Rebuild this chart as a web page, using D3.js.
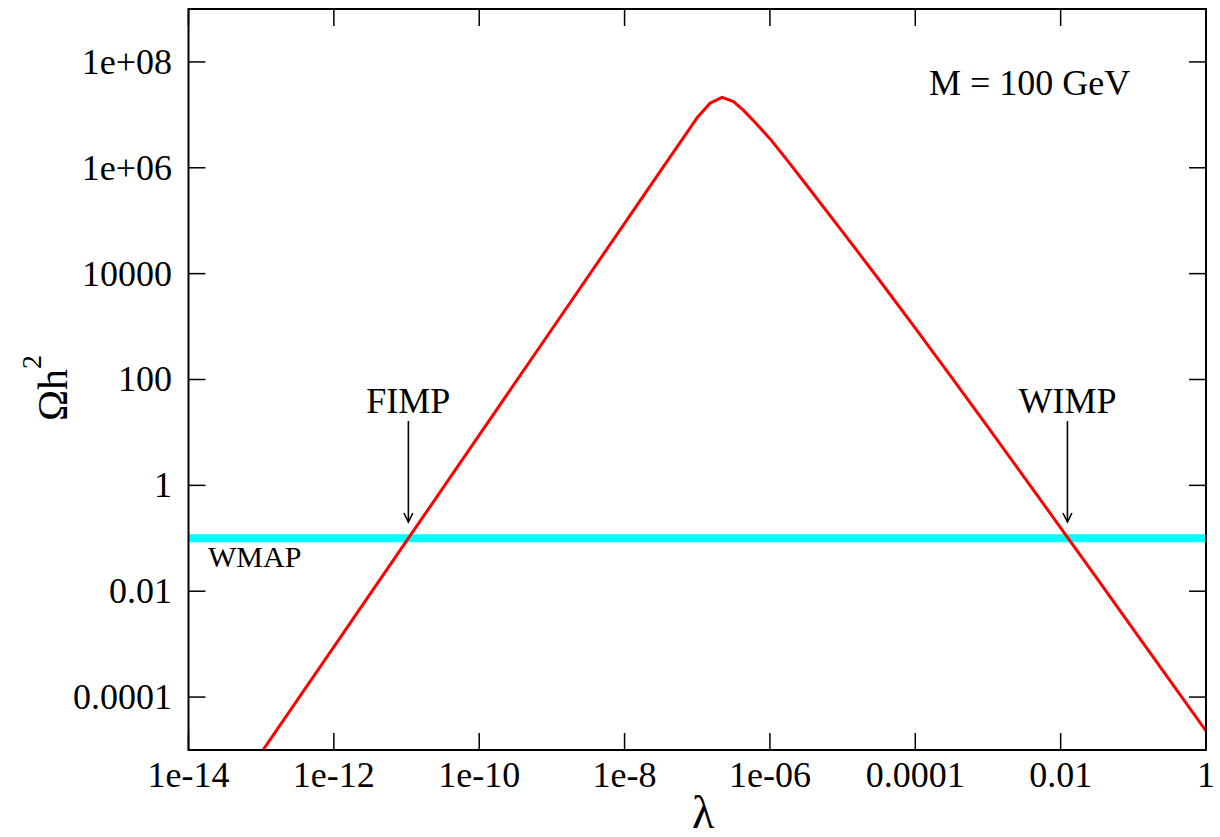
<!DOCTYPE html>
<html>
<head>
<meta charset="utf-8">
<script src="https://cdn.jsdelivr.net/npm/d3@7"></script>
<style>
  html, body { margin: 0; padding: 0; background: #fff; }
  svg { display: block; }
  text { font-family: "Liberation Serif", "Times New Roman", serif; fill: #000; }
</style>
</head>
<body>
<script>
// ---- data ----
const lambdaVals = [1e-13, 1e-12, 1e-11, 1e-10, 1e-9, 1e-8, 3.16e-8, 1e-7, 1.5e-7, 2.2e-7, 3.16e-7, 4.3e-7,
                    6.31e-7, 1e-6, 1.78e-6, 3.16e-6, 1e-5, 3.16e-5, 1e-4, 3.16e-4, 1e-3, 3.16e-3, 1e-2, 3.16e-2, 1e-1, 3.16e-1, 1];
const omegaVals  = [8.9e-6, 8.9e-4, 0.089, 8.9, 891, 8.9e4, 8.9e5, 8.9e6, 1.66e7, 2.14e7, 1.78e7, 1.23e7,
                    7.08e6, 3.55e6, 1.32e6, 4.79e5, 6.17e4, 7.76e3, 933, 110, 12.6, 1.41, 0.158, 0.0174, 1.91e-3, 2.09e-4, 2.29e-5];
const wmapValue = 0.1;
const xTicks = [1e-14, 1e-12, 1e-10, 1e-8, 1e-6, 1e-4, 1e-2, 1];
const xTickLabels = ["1e-14", "1e-12", "1e-10", "1e-8", "1e-06", "0.0001", "0.01", "1"];
const yTicks = [1e-4, 1e-2, 1, 100, 1e4, 1e6, 1e8];
const yTickLabels = ["0.0001", "0.01", "1", "100", "10000", "1e+06", "1e+08"];
const annotations = [
  { text: "FIMP", lambda: 1.06e-11 },
  { text: "WIMP", lambda: 0.0124 }
];

// ---- layout ----
const W = 1220, H = 837;
const L = 188.5, R = 1206, T = 9, B = 750;

const svg = d3.select("body").append("svg").attr("width", W).attr("height", H);

const x = d3.scaleLog().domain([1e-14, 1]).range([L, R]);
const y = d3.scaleLog().domain([1e-5, 1e9]).range([B, T]);

svg.append("defs").append("clipPath").attr("id", "plotclip")
  .append("rect").attr("x", L).attr("y", T).attr("width", R - L).attr("height", B - T);

const plot = svg.append("g").attr("clip-path", "url(#plotclip)");

// WMAP band
plot.append("line")
  .attr("x1", L).attr("x2", R)
  .attr("y1", y(wmapValue)).attr("y2", y(wmapValue))
  .attr("stroke", "#00ffff").attr("stroke-width", 8);

// curve
const pts = lambdaVals.map((l, i) => [l, omegaVals[i]]);
plot.append("path")
  .datum(pts)
  .attr("fill", "none")
  .attr("stroke", "#ff0000")
  .attr("stroke-width", 3)
  .attr("stroke-linejoin", "round")
  .attr("d", d3.line().x(d => x(d[0])).y(d => y(d[1])));

// ticks (inside, all four sides)
const tickLen = 17;
const tg = svg.append("g").attr("stroke", "#000").attr("stroke-width", 1.5);
xTicks.forEach(t => {
  const px = x(t);
  tg.append("line").attr("x1", px).attr("x2", px).attr("y1", B).attr("y2", B - tickLen);
  tg.append("line").attr("x1", px).attr("x2", px).attr("y1", T).attr("y2", T + tickLen);
});
yTicks.forEach(t => {
  const py = y(t);
  tg.append("line").attr("x1", L).attr("x2", L + tickLen).attr("y1", py).attr("y2", py);
  tg.append("line").attr("x1", R).attr("x2", R - tickLen).attr("y1", py).attr("y2", py);
});

// frame
svg.append("rect").attr("x", L).attr("y", T).attr("width", R - L).attr("height", B - T)
  .attr("fill", "none").attr("stroke", "#000").attr("stroke-width", 2);

// tick labels
svg.append("g").selectAll("text").data(xTicks).join("text")
  .attr("x", d => x(d)).attr("y", 787)
  .attr("text-anchor", "middle")
  .style("font-size", "36px")
  .text((d, i) => xTickLabels[i]);

svg.append("g").selectAll("text").data(yTicks).join("text")
  .attr("x", 172).attr("y", d => y(d))
  .attr("dy", "0.33em")
  .attr("text-anchor", "end")
  .style("font-size", "36px")
  .text((d, i) => yTickLabels[i]);

// axis titles
svg.append("text")
  .attr("x", (L + R) / 2 + 6).attr("y", 828)
  .attr("text-anchor", "middle")
  .style("font-size", "46px")
  .text("λ");

const yt = svg.append("text")
  .attr("transform", `translate(67, 388) rotate(-90)`)
  .attr("text-anchor", "middle")
  .style("font-size", "42px");
yt.append("tspan").text("Ωh");
yt.append("tspan").attr("dy", -26).style("font-size", "28px").text("2");

// annotations
annotations.forEach(a => {
  const px = x(a.lambda);
  svg.append("text").attr("x", px).attr("y", 413)
    .attr("text-anchor", "middle").style("font-size", "36px").text(a.text);
  const g = svg.append("g").attr("stroke", "#000").attr("stroke-width", 1.6).attr("fill", "none");
  g.append("line").attr("x1", px).attr("x2", px).attr("y1", 421).attr("y2", 522);
  g.append("polyline").attr("points", `${px - 4.5},${513} ${px},${522} ${px + 4.5},${513}`);
});

svg.append("text").attr("x", 208).attr("y", 567)
  .style("font-size", "30px").text("WMAP");

svg.append("text").attr("x", 929).attr("y", 95)
  .style("font-size", "36px").text("M = 100 GeV");
</script>
</body>
</html>
